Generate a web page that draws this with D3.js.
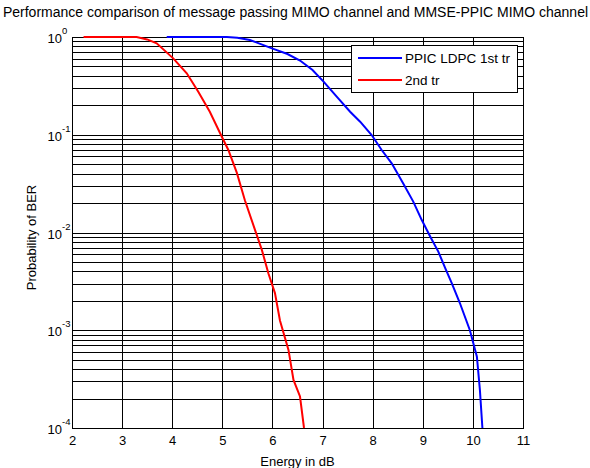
<!DOCTYPE html>
<html>
<head>
<meta charset="utf-8">
<script src="https://cdn.jsdelivr.net/npm/d3@7"></script>
<style>
  html, body { margin: 0; padding: 0; background: #fff; }
  svg { display: block; font-family: "Liberation Sans", Arial, sans-serif; }
</style>
</head>
<body>
<div id="chart"></div>
<script>
// ---- data ----
const titleText = "Performance comparison of message passing MIMO channel and MMSE-PPIC MIMO channel";
const xLabel = "Energy in dB";
const yLabel = "Probability of BER";
const xTicks = [2, 3, 4, 5, 6, 7, 8, 9, 10, 11];
const yExponents = [0, -1, -2, -3, -4];
const seriesNames = ["PPIC LDPC 1st tr", "2nd tr"];
const seriesColors = ["#0000ff", "#ff0000"];

const blueX = [3.89, 5.09, 5.3, 5.55, 5.99, 6.3, 6.55, 6.8, 7.02, 7.3, 7.55, 7.75, 7.98, 8.18, 8.38, 8.61, 8.81, 8.98, 9.15, 9.31, 9.45, 9.58, 9.74, 9.94, 10.08, 10.14, 10.19];
const blueBER = [1, 1, 0.985, 0.933, 0.766, 0.67, 0.575, 0.46, 0.349, 0.24, 0.172, 0.136, 0.0993, 0.0698, 0.051, 0.0318, 0.0207, 0.0134, 0.00906, 0.00637, 0.0043, 0.00302, 0.0019, 0.001, 0.000537, 0.000245, 0.0001];

const redX = [2.23, 3.29, 3.5, 3.69, 4.02, 4.29, 4.52, 4.75, 4.99, 5.12, 5.29, 5.45, 5.65, 5.79, 5.92, 6.05, 6.15, 6.32, 6.42, 6.55, 6.63];
const redBER = [1, 1, 0.944, 0.861, 0.605, 0.425, 0.275, 0.172, 0.0955, 0.0698, 0.0407, 0.0214, 0.0107, 0.0066, 0.0038, 0.0024, 0.00126, 0.00063, 0.00031, 0.00021, 0.0001];

// ---- layout ----
const W = 590, H = 468;
const L = 72, R = 523, T = 37, B = 428;
const FS = 13;

const svg = d3.select("#chart").append("svg").attr("width", W).attr("height", H);

const x = d3.scaleLinear().domain([2, 11]).range([L, R]);
const y = d3.scaleLog().domain([1e-4, 1]).range([B, T]);

// grid
const minorVals = [];
for (let e = -4; e < 0; e++) for (let m = 1; m <= 9; m++) minorVals.push(m * Math.pow(10, e));
minorVals.push(1);

const grid = svg.append("g").attr("stroke", "#000").attr("stroke-width", 1).attr("shape-rendering", "crispEdges");
grid.selectAll("line.h").data(minorVals).join("line").attr("class", "h")
  .attr("x1", L).attr("x2", R)
  .attr("y1", d => Math.round(y(d)) + 0.5).attr("y2", d => Math.round(y(d)) + 0.5);
grid.selectAll("line.v").data(xTicks).join("line").attr("class", "v")
  .attr("y1", T).attr("y2", B)
  .attr("x1", d => Math.round(x(d)) + 0.5).attr("x2", d => Math.round(x(d)) + 0.5);

// axes
const xAxis = d3.axisBottom(x).tickValues(xTicks).tickSize(0).tickPadding(8).tickFormat(d3.format("d"));
const gx = svg.append("g").attr("transform", `translate(0,${B})`).call(xAxis);
gx.select(".domain").remove();
gx.selectAll("text").attr("font-size", FS).attr("font-family", "Liberation Sans, Arial, sans-serif").attr("fill", "#000");

const yAxis = d3.axisLeft(y).tickValues(yExponents.map(e => Math.pow(10, e))).tickSize(0).tickPadding(10).tickFormat(() => "");
const gy = svg.append("g").attr("transform", `translate(${L},0)`).call(yAxis);
gy.select(".domain").remove();
gy.selectAll(".tick").each(function(d) {
  const g = d3.select(this);
  g.select("text").remove();
  const e = Math.round(Math.log10(d));
  g.append("text").attr("x", -10).attr("y", 5.5).attr("text-anchor", "end")
    .attr("font-size", FS).attr("fill", "#000").text("10");
  g.append("text").attr("x", -10).attr("y", -3.5).attr("text-anchor", "start")
    .attr("font-size", 9.5).attr("fill", "#000").text(String(e));
});

// frame
svg.append("rect").attr("x", L + 0.5).attr("y", T + 0.5).attr("width", R - L).attr("height", B - T)
  .attr("fill", "none").attr("stroke", "#000").attr("stroke-width", 1.5).attr("shape-rendering", "crispEdges");

// curves
const line = d3.line().x(d => x(d[0])).y(d => y(d[1]));
const series = [d3.zip(blueX, blueBER), d3.zip(redX, redBER)];
svg.append("g").selectAll("path").data(series).join("path")
  .attr("d", line).attr("fill", "none")
  .attr("stroke", (d, i) => seriesColors[i]).attr("stroke-width", 2);

// legend
const lg = svg.append("g");
lg.append("rect").attr("x", 351.5).attr("y", 45.5).attr("width", 166).attr("height", 47)
  .attr("fill", "#fff").attr("stroke", "#000").attr("stroke-width", 1);
seriesNames.forEach((n, i) => {
  const yy = 58 + i * 22;
  lg.append("line").attr("x1", 358).attr("x2", 402).attr("y1", yy).attr("y2", yy)
    .attr("stroke", seriesColors[i]).attr("stroke-width", 2);
  lg.append("text").attr("x", 405).attr("y", yy + 5).attr("font-size", 13.5).attr("fill", "#000").text(n);
});

// titles
svg.append("text").attr("x", (L + R) / 2 - 2).attr("y", 17).attr("text-anchor", "middle")
  .attr("font-size", 14).attr("fill", "#000").text(titleText);
svg.append("text").attr("x", (L + R) / 2).attr("y", 466).attr("text-anchor", "middle")
  .attr("font-size", FS).attr("fill", "#000").text(xLabel);
svg.append("text").attr("transform", `translate(36,${(T + B) / 2 + 5}) rotate(-90)`).attr("text-anchor", "middle")
  .attr("font-size", FS).attr("fill", "#000").text(yLabel);
</script>
</body>
</html>
